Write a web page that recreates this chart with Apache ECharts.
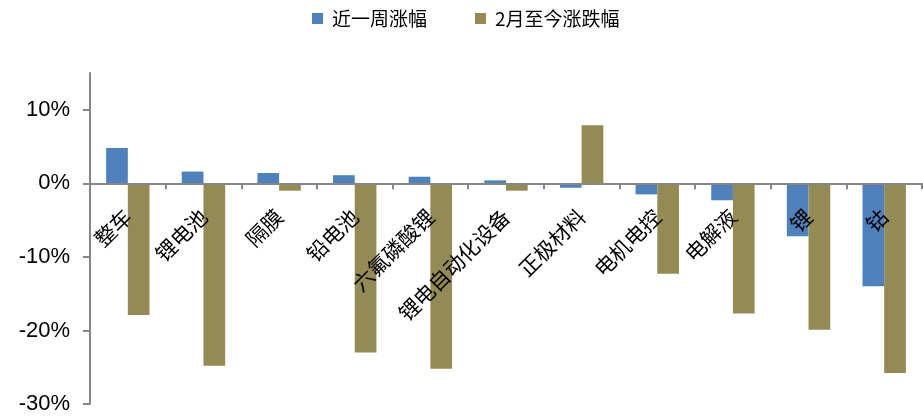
<!DOCTYPE html>
<html>
<head>
<meta charset="utf-8">
<script src="https://cdn.jsdelivr.net/npm/echarts@6/dist/echarts.min.js"></script>
<style>
html,body{margin:0;padding:0;background:#fff;}
#chart{width:923px;height:420px;}
</style>
</head>
<body>
<div id="chart"></div>
<script>
const categories = ['整车','锂电池','隔膜','铅电池','六氟磷酸锂','锂电自动化设备','正极材料','电机电控','电解液','锂','钴'];
const weekChange = [4.8, 1.6, 1.4, 1.1, 0.9, 0.4, -0.6, -1.5, -2.3, -7.2, -14.0];
const sinceFebChange = [-17.9, -24.8, -1.0, -23.0, -25.2, -1.0, 7.9, -12.3, -17.7, -19.9, -25.8];
const seriesNames = ['近一周涨幅', '2月至今涨跌幅'];
const yTicks = [-30, -20, -10, 0, 10];

const chart = echarts.init(document.getElementById('chart'), null, {renderer: 'canvas'});
const axisGray = '#868686';
const legendText = {fontFamily: 'Noto Sans CJK SC', fontSize: 19, color: '#000', padding: [0, 0, 0, 4]};
chart.setOption({
  animation: false,
  backgroundColor: '#fff',
  legend: [
    {data: [seriesNames[0]], left: 312, top: 9, padding: 0, itemWidth: 11, itemHeight: 11, icon: 'rect', textStyle: legendText},
    {data: [seriesNames[1]], left: 475, top: 9, padding: 0, itemWidth: 11, itemHeight: 11, icon: 'rect', textStyle: legendText}
  ],
  grid: {left: 90, right: 1, top: 73, bottom: 16, outerBoundsMode: 'none'},
  xAxis: {
    type: 'category',
    data: categories,
    z: 10,
    axisLine: {onZero: true, lineStyle: {color: axisGray, width: 2}},
    axisTick: {show: true, length: 6, lineStyle: {color: axisGray, width: 2}},
    axisLabel: {show: true, rotate: 45, margin: -191, fontSize: 21, color: '#000', fontFamily: 'Noto Sans CJK SC', interval: 0}
  },
  yAxis: {
    type: 'value',
    min: -30, max: 15, interval: 10,
    axisLine: {show: true, lineStyle: {color: axisGray, width: 2}},
    axisTick: {show: true, length: 7, customValues: yTicks, lineStyle: {color: axisGray, width: 2}},
    axisLabel: {customValues: yTicks, margin: 20, fontSize: 22, color: '#000', fontFamily: 'Liberation Sans',
      formatter: v => v + '%'},
    splitLine: {show: false}
  },
  series: [
    {name: seriesNames[0], type: 'bar', data: weekChange, barWidth: 21.7, barGap: '0%',
     itemStyle: {color: '#4F81BD'}},
    {name: seriesNames[1], type: 'bar', data: sinceFebChange, barWidth: 21.7, barGap: '0%',
     itemStyle: {color: '#948A54'}}
  ]
});
</script>
</body>
</html>
